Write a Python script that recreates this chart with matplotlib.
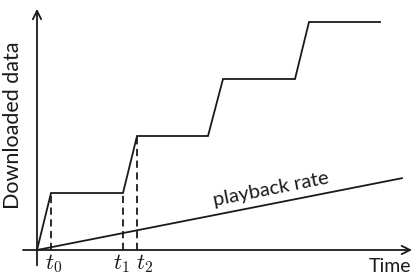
import matplotlib
matplotlib.use("Agg")
import matplotlib.pyplot as plt

plt.rcParams['mathtext.fontset'] = 'cm'

# Download curve (time units, data units)
download_t = [0, 1.4, 8.6, 10.0, 17.1, 18.6, 25.8, 27.2, 34.3]
download_d = [0, 1.0, 1.0, 2.0, 2.0, 3.0, 3.0, 4.0, 4.0]
# Playback rate line
playback_t = [0, 36.5]
playback_d = [0, 1.26]
# Marked instants
mark_t = [1.4, 8.6, 10.0]
mark_d = [1.0, 1.0, 2.0]
mark_labels = [r'$t_0$', r'$t_1$', r'$t_2$']

fig = plt.figure(figsize=(4.16, 2.75), dpi=100)
ax = fig.add_axes([0, 0, 1, 1])
ax.set_xlim(-3.7, 37.9)
ax.set_ylim((250 - 275) / 57, 250 / 57)
ax.axis('off')

ink = '#1a1a1a'
lw = 1.3
ax.plot(download_t, download_d, color=ink, lw=lw, solid_joinstyle='miter')
ax.plot(playback_t, playback_d, color=ink, lw=lw)
for t, d in zip(mark_t, mark_d):
    ax.plot([t, t], [0, d], color=ink, lw=lw, ls=(0, (4, 2.5)))

# axes arrows
ax.annotate('', xy=(37.5, 0), xytext=(-1.4, 0),
            arrowprops=dict(arrowstyle='->,head_length=0.6,head_width=0.3', lw=lw, color=ink,
                            shrinkA=0, shrinkB=0))
ax.annotate('', xy=(0, 4.23), xytext=(0, -0.27),
            arrowprops=dict(arrowstyle='->,head_length=0.6,head_width=0.3', lw=lw, color=ink,
                            shrinkA=0, shrinkB=0))

font = ['Lato', 'DejaVu Sans']
label_dx = [0.3, -0.2, 0.8]
for t, lab, dx in zip(mark_t, mark_labels, label_dx):
    ax.text(t + dx, -0.245, lab, fontsize=16, ha='center', va='center', color=ink)

ax.text(37.4, -0.29, 'Time', family=font, fontsize=14, ha='right', va='center', color=ink)
ax.text(-2.4, 2.18, 'Downloaded data', family=font, fontsize=15.5, rotation=90,
        ha='center', va='center', color=ink)
ax.text(23.4, 1.07, 'playback rate', family=font, fontsize=14.5, rotation=11.2,
        ha='center', va='center', rotation_mode='anchor', color=ink)

fig.savefig('out.png', dpi=100)
